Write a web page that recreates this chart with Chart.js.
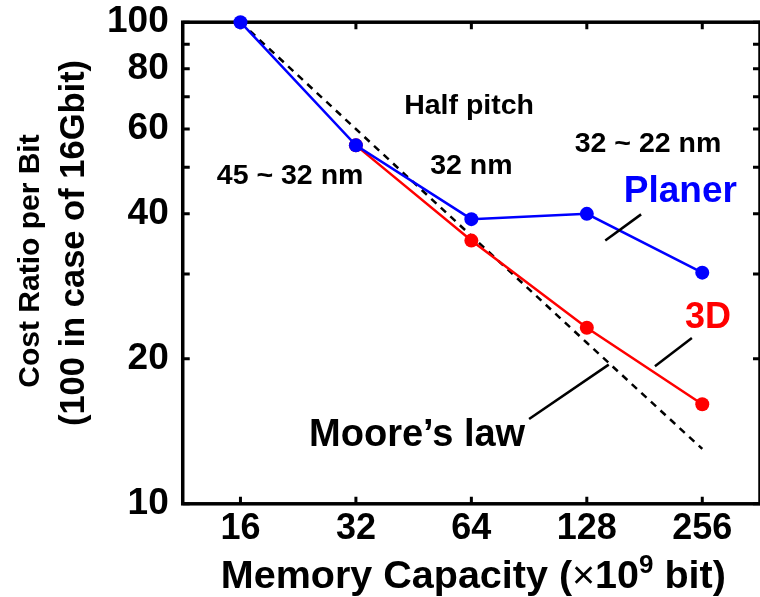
<!DOCTYPE html>
<html>
<head>
<meta charset="utf-8">
<script src="https://cdn.jsdelivr.net/npm/chart.js@4/dist/chart.umd.min.js"></script>
<style>
  html, body { margin: 0; padding: 0; background: #fff; }
  #wrap { width: 760px; height: 597px; }
</style>
</head>
<body>
<div id="wrap"><canvas id="costChart"></canvas></div>
<script>
// Memory capacity (x10^9 bit) and cost ratio per bit (16Gbit = 100)
const capacities = ['16', '32', '64', '128', '256'];
const planerCost = [100, 55.5, 39, 40, 30.2];
const cost3D = [null, 55.5, 35.2, 23.2, 16.1];
const mooreCost = [100, 60, 36, 21.6, 13];

const yTickValues = [10, 20, 40, 60, 80, 100];
const yMinorValues = [10, 20, 30, 40, 50, 60, 70, 80, 90, 100];

const FONT = '"Liberation Sans", Arial, Helvetica, sans-serif';

// text notes placed on the plot: x = category index, y = cost value
const notes = [
    { text: 'Half pitch', x: 1.98, y: 66.9, size: 28.5, color: '#000' },
    { text: '45 ~ 32 nm', x: 0.43, y: 47.9, size: 28.5, color: '#000' },
    { text: '32 nm', x: 2.0, y: 50.2, size: 28.5, color: '#000' },
    { text: '32 ~ 22 nm', x: 3.53, y: 55.8, size: 28.5, color: '#000' },
    { text: 'Planer', x: 3.81, y: 42.3, size: 37, color: '#0000ff', baseline: true },
    { text: '3D', x: 4.05, y: 23.2, size: 36, color: '#ff0000', baseline: true },
    { text: 'Moore\u2019s law', x: 1.53, y: 13.2, size: 38, color: '#000', baseline: true }
];

// short leader lines from labels to their curves
const leaders = [
    [3.47, 39.9, 3.16, 35.2],
    [3.91, 22.1, 3.59, 19.3],
    [3.19, 19.45, 2.5, 15.0]
];

function xAt(scale, idx) {
    const p0 = scale.getPixelForValue(0);
    const p1 = scale.getPixelForValue(1);
    return p0 + (p1 - p0) * idx;
}

// x axis title with a raised exponent
function drawXTitle(chart) {
    const { ctx, chartArea: a } = chart;
    const parts = [
        { t: 'Memory Capacity (', f: 'bold 39.5px ' + FONT, dy: 0 },
        { t: '\u00d7', f: '39.5px ' + FONT, dy: 0 },
        { t: '10', f: 'bold 39.5px ' + FONT, dy: 0 },
        { t: '9', f: 'bold 26px ' + FONT, dy: -15 },
        { t: ' bit)', f: 'bold 39.5px ' + FONT, dy: 0 }
    ];
    ctx.save();
    ctx.fillStyle = '#000';
    ctx.textAlign = 'left';
    ctx.textBaseline = 'alphabetic';
    let total = 0;
    parts.forEach(p => { ctx.font = p.f; p.w = ctx.measureText(p.t).width; total += p.w; });
    let x = (a.left + a.right) / 2 + 2 - total / 2;
    const base = 588;
    parts.forEach(p => {
        ctx.font = p.f;
        ctx.fillText(p.t, x, base + p.dy);
        x += p.w;
    });
    ctx.restore();
}

const framePlugin = {
    id: 'frame',
    beforeDatasetsDraw(chart) {
        const { ctx, chartArea: a, scales } = chart;
        ctx.save();
        ctx.strokeStyle = '#000';
        ctx.lineWidth = 3.5;
        ctx.strokeRect(a.left, a.top, a.right - a.left, a.bottom - a.top);
        ctx.lineWidth = 3;
        const len = 7;
        capacities.forEach((c, i) => {
            const x = scales.x.getPixelForValue(i);
            ctx.beginPath();
            ctx.moveTo(x, a.bottom); ctx.lineTo(x, a.bottom - len);
            ctx.moveTo(x, a.top); ctx.lineTo(x, a.top + len);
            ctx.stroke();
        });
        yMinorValues.forEach(v => {
            const y = scales.y.getPixelForValue(v);
            ctx.beginPath();
            ctx.moveTo(a.left, y); ctx.lineTo(a.left + len, y);
            ctx.moveTo(a.right, y); ctx.lineTo(a.right - len, y);
            ctx.stroke();
        });
        ctx.restore();
    },
    afterDatasetsDraw(chart) {
        const { ctx, scales } = chart;
        ctx.save();
        ctx.strokeStyle = '#000';
        ctx.lineWidth = 2.5;
        leaders.forEach(l => {
            ctx.beginPath();
            ctx.moveTo(xAt(scales.x, l[0]), scales.y.getPixelForValue(l[1]));
            ctx.lineTo(xAt(scales.x, l[2]), scales.y.getPixelForValue(l[3]));
            ctx.stroke();
        });
        ctx.textAlign = 'center';
        notes.forEach(n => {
            ctx.font = 'bold ' + n.size + 'px ' + FONT;
            ctx.fillStyle = n.color;
            ctx.textBaseline = n.baseline ? 'alphabetic' : 'middle';
            ctx.fillText(n.text, xAt(scales.x, n.x), scales.y.getPixelForValue(n.y));
        });

        // two-line y axis title
        const midY = (chart.chartArea.top + chart.chartArea.bottom) / 2;
        ctx.fillStyle = '#000';
        ctx.textBaseline = 'middle';
        ctx.translate(31, midY - 2);
        ctx.rotate(-Math.PI / 2);
        ctx.font = 'bold 30px ' + FONT;
        ctx.fillText('Cost Ratio per Bit', 0, 0);
        ctx.font = 'bold 34.5px ' + FONT;
        ctx.fillText('(100 in case of 16Gbit)', 18, 43);
        ctx.restore();

        drawXTitle(chart);
    }
};

new Chart(document.getElementById('costChart'), {
    type: 'line',
    data: {
        labels: capacities,
        datasets: [
            {
                label: 'Moore\u2019s law',
                data: mooreCost,
                borderColor: '#000',
                borderWidth: 2.5,
                borderDash: [7, 6],
                pointRadius: 0,
                fill: false,
                clip: false,
                order: 3
            },
            {
                label: '3D',
                data: cost3D,
                borderColor: '#ff0000',
                backgroundColor: '#ff0000',
                borderWidth: 2.5,
                pointRadius: 7,
                pointBorderWidth: 0,
                fill: false,
                clip: false,
                order: 2
            },
            {
                label: 'Planer',
                data: planerCost,
                borderColor: '#0000ff',
                backgroundColor: '#0000ff',
                borderWidth: 2.5,
                pointRadius: 7,
                pointBorderWidth: 0,
                fill: false,
                clip: false,
                order: 1
            }
        ]
    },
    options: {
        responsive: true,
        maintainAspectRatio: false,
        animation: false,
        layout: { autoPadding: false, padding: { left: 107, top: 0, right: 0, bottom: 46 } },
        plugins: {
            legend: { display: false },
            tooltip: { enabled: false }
        },
        scales: {
            x: {
                type: 'category',
                offset: true,
                grid: { display: false, drawTicks: true, tickLength: 4 },
                border: { display: false },
                ticks: {
                    color: '#000',
                    padding: 0,
                    font: { family: FONT, size: 36, weight: 'bold' }
                }
            },
            y: {
                type: 'logarithmic',
                min: 10,
                max: 100,
                grid: { display: false, drawTicks: true, tickLength: 14 },
                border: { display: false },
                afterBuildTicks(scale) {
                    scale.ticks = yTickValues.map(v => ({ value: v }));
                },
                ticks: {
                    color: '#000',
                    padding: 0,
                    font: { family: FONT, size: 37, weight: 'bold' },
                    callback: v => String(v)
                }
            }
        }
    },
    plugins: [framePlugin]
});
</script>
</body>
</html>
